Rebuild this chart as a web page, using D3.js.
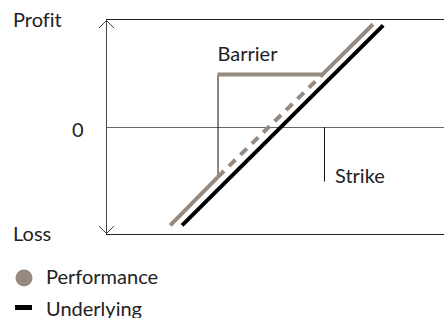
<!DOCTYPE html>
<html>
<head>
<meta charset="utf-8">
<script src="https://d3js.org/d3.v7.min.js"></script>
<style>
  body { margin: 0; background: #fff; }
  text { font-family: Lato, sans-serif; fill: #222; font-size: 20px; font-variant-ligatures: none; }
</style>
</head>
<body>
<svg width="444" height="318"></svg>
<script>
  // Data (price on x, payoff on y, arbitrary units)
  const underlying = [[22.5, -92], [82, 95]];
  const perfLow = [[19, -92], [33, -47]];
  const perfDashed = [[33, -47], [64, 49]];
  const perfHigh = [[33, 49], [64, 49], [79, 96]];
  const barrierLevel = 33;
  const strikeLevel = 64.5;
  const yLabels = ['Profit', '0', 'Loss'];
  const legendItems = ['Performance', 'Underlying'];

  const grey = '#968a80';
  const svg = d3.select('svg');

  const x = d3.scaleLinear().domain([0, 100]).range([106, 444]);
  const y = d3.scaleLinear().domain([-100, 100]).range([234, 20]);
  const line = d3.line().x(d => x(d[0])).y(d => y(d[1]));

  // frame lines
  svg.append('line').attr('x1', x(0)).attr('x2', x(100)).attr('y1', y(100) - 0.5).attr('y2', y(100) - 0.5)
    .attr('stroke', '#222');
  svg.append('line').attr('x1', x(0)).attr('x2', x(100)).attr('y1', y(-100) + 0.5).attr('y2', y(-100) + 0.5)
    .attr('stroke', '#222');
  svg.append('line').attr('x1', x(0)).attr('x2', x(100)).attr('y1', y(0) + 0.5).attr('y2', y(0) + 0.5)
    .attr('stroke', '#666');

  // vertical axis with arrows
  svg.append('line').attr('x1', x(0) + 0.5).attr('x2', x(0) + 0.5).attr('y1', y(100)).attr('y2', y(-100))
    .attr('stroke', '#444');
  svg.append('path').attr('fill', 'none').attr('stroke', '#444')
    .attr('d', 'M' + (x(0) - 7) + ',' + (y(100) + 8) + 'L' + (x(0) + 0.5) + ',' + (y(100) + 0.5) + 'L' + (x(0) + 8) + ',' + (y(100) + 8));
  svg.append('path').attr('fill', 'none').attr('stroke', '#444')
    .attr('d', 'M' + (x(0) - 7) + ',' + (y(-100) - 8) + 'L' + (x(0) + 0.5) + ',' + (y(-100) - 0.5) + 'L' + (x(0) + 8) + ',' + (y(-100) - 8));

  // barrier & strike markers
  svg.append('line').attr('x1', x(barrierLevel) + 0.5).attr('x2', x(barrierLevel) + 0.5)
    .attr('y1', y(perfHigh[0][1])).attr('y2', y(perfLow[1][1]))
    .attr('stroke', '#111');
  svg.append('line').attr('x1', x(strikeLevel) + 0.5).attr('x2', x(strikeLevel) + 0.5)
    .attr('y1', y(0)).attr('y2', y(-51))
    .attr('stroke', '#111');

  // performance (grey)
  [perfLow, perfHigh].forEach(d => {
    svg.append('path').datum(d).attr('d', line)
      .attr('fill', 'none').attr('stroke', grey).attr('stroke-width', 4);
  });
  svg.append('path').datum(perfDashed).attr('d', line)
    .attr('fill', 'none').attr('stroke', grey).attr('stroke-width', 4)
    .attr('stroke-dasharray', '9,7');

  // underlying (black)
  svg.append('path').datum(underlying).attr('d', line)
    .attr('fill', 'none').attr('stroke', '#000').attr('stroke-width', 4);

  // labels
  svg.append('text').text(yLabels[0]).attr('x', 13).attr('y', 26.5);
  svg.append('text').text(yLabels[1]).attr('x', 72).attr('y', 136.5);
  svg.append('text').text(yLabels[2]).attr('x', 13).attr('y', 241);
  svg.append('text').text('Barrier').attr('x', x(barrierLevel)).attr('y', 61);
  svg.append('text').text('Strike').attr('x', x(strikeLevel) + 11).attr('y', 183);

  // legend
  const leg = svg.append('g');
  leg.append('circle').attr('cx', 24).attr('cy', 278).attr('r', 8.5).attr('fill', grey);
  leg.append('rect').attr('x', 15).attr('y', 305).attr('width', 17).attr('height', 5).attr('fill', '#000');
  leg.selectAll('text.leg').data(legendItems).enter().append('text')
    .text(d => d).attr('x', 46).attr('y', (d, i) => 284 + i * 31.5);
</script>
</body>
</html>
